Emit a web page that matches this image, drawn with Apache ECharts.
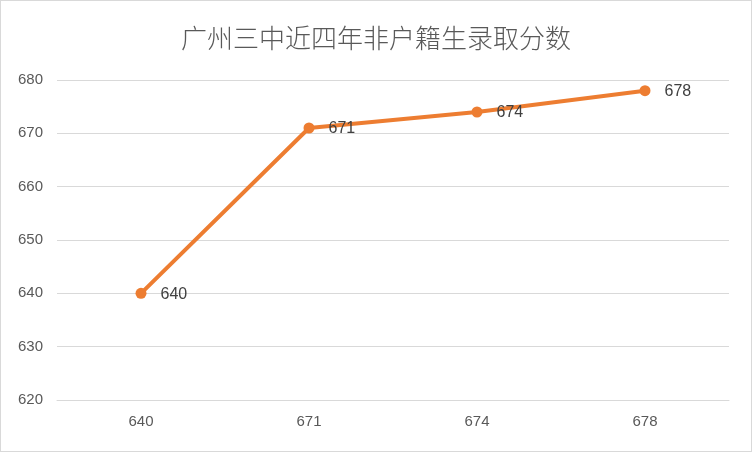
<!DOCTYPE html>
<html><head><meta charset="utf-8">
<script src="https://cdn.jsdelivr.net/npm/echarts@6/dist/echarts.min.js"></script>
<style>html,body{margin:0;padding:0;}#c{width:752px;height:452px;box-sizing:border-box;border:1px solid #d9d9d9;}</style>
</head><body><div id="c"></div>
<script>
const categories = ['640','671','674','678'];
const values = [640, 671, 674, 678];
const title = '广州三中近四年非户籍生录取分数';
const chart = echarts.init(document.getElementById('c'));
chart.setOption({
  animation:false,
  title:{text:title,left:'center',top:19,textStyle:{fontFamily:'Noto Sans CJK SC',fontSize:26,fontWeight:300,color:'#595959'}},
  grid:{left:56,right:22,top:79,bottom:51},
  xAxis:{type:'category',data:categories,boundaryGap:true,
    axisLine:{lineStyle:{color:'#d9d9d9'}},axisTick:{show:false},
    axisLabel:{color:'#595959',fontSize:15,margin:14,fontFamily:'Liberation Sans'}},
  yAxis:{type:'value',min:620,max:680,interval:10,
    axisLine:{show:false},axisTick:{show:false},
    splitLine:{lineStyle:{color:'#d9d9d9'}},
    axisLabel:{color:'#595959',fontSize:15,margin:14,fontFamily:'Liberation Sans'}},
  series:[{type:'line',data:values,symbol:'circle',symbolSize:11,
    lineStyle:{color:'#ED7D31',width:4},itemStyle:{color:'#ED7D31'},
    label:{show:true,position:'right',distance:14,color:'#404040',fontSize:16,fontFamily:'Liberation Sans',offset:[0,1]}}]
});
</script></body></html>
